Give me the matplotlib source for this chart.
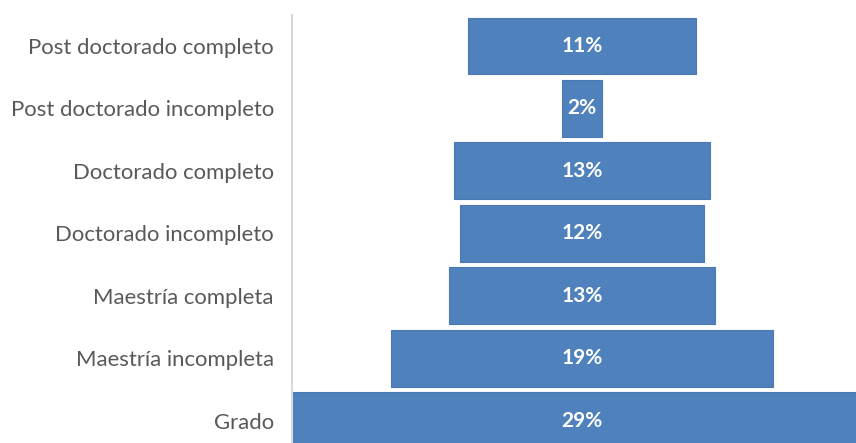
import matplotlib.pyplot as plt
import numpy as np

categories = ['Grado', 'Maestría incompleta', 'Maestría completa',
              'Doctorado incompleto', 'Doctorado completo',
              'Post doctorado incompleto', 'Post doctorado completo']
values = [29.1, 19.2, 13.3, 12.2, 12.8, 2.0, 11.4]
labels = ['29%', '19%', '13%', '12%', '13%', '2%', '11%']

plt.rcParams['font.family'] = ['Lato', 'DejaVu Sans']

fig = plt.figure(figsize=(8.56, 4.43), dpi=100)
ax = fig.add_axes([292 / 856, -8.8 / 443, 1 - 292 / 856, (443 - 14.8 + 8.8) / 443])

vals = np.array(values)
offset = (vals.max() - vals) / 2
y = np.arange(len(categories))

ax.barh(y, vals, left=offset, height=0.91, color='#4F81BD',
        edgecolor='#4A78B0', linewidth=0.8)

for yi, off, v, lab in zip(y, offset, vals, labels):
    ax.text(off + v / 2, yi, lab, ha='center', va='center',
            color='white', fontsize=15, fontweight='bold')

ax.set_xlim(0, 564 / 19.93)
ax.set_ylim(-0.5, len(categories) - 0.5)
ax.set_yticks(y)
ax.set_yticklabels(categories, fontsize=15.9, color='#595959')
ax.tick_params(axis='y', length=0, pad=13)
ax.set_xticks([])

for side in ['top', 'right', 'bottom']:
    ax.spines[side].set_visible(False)
ax.spines['left'].set_color('#D9D9D9')
ax.spines['left'].set_linewidth(1.5)

fig.savefig('out.png', dpi=100)
